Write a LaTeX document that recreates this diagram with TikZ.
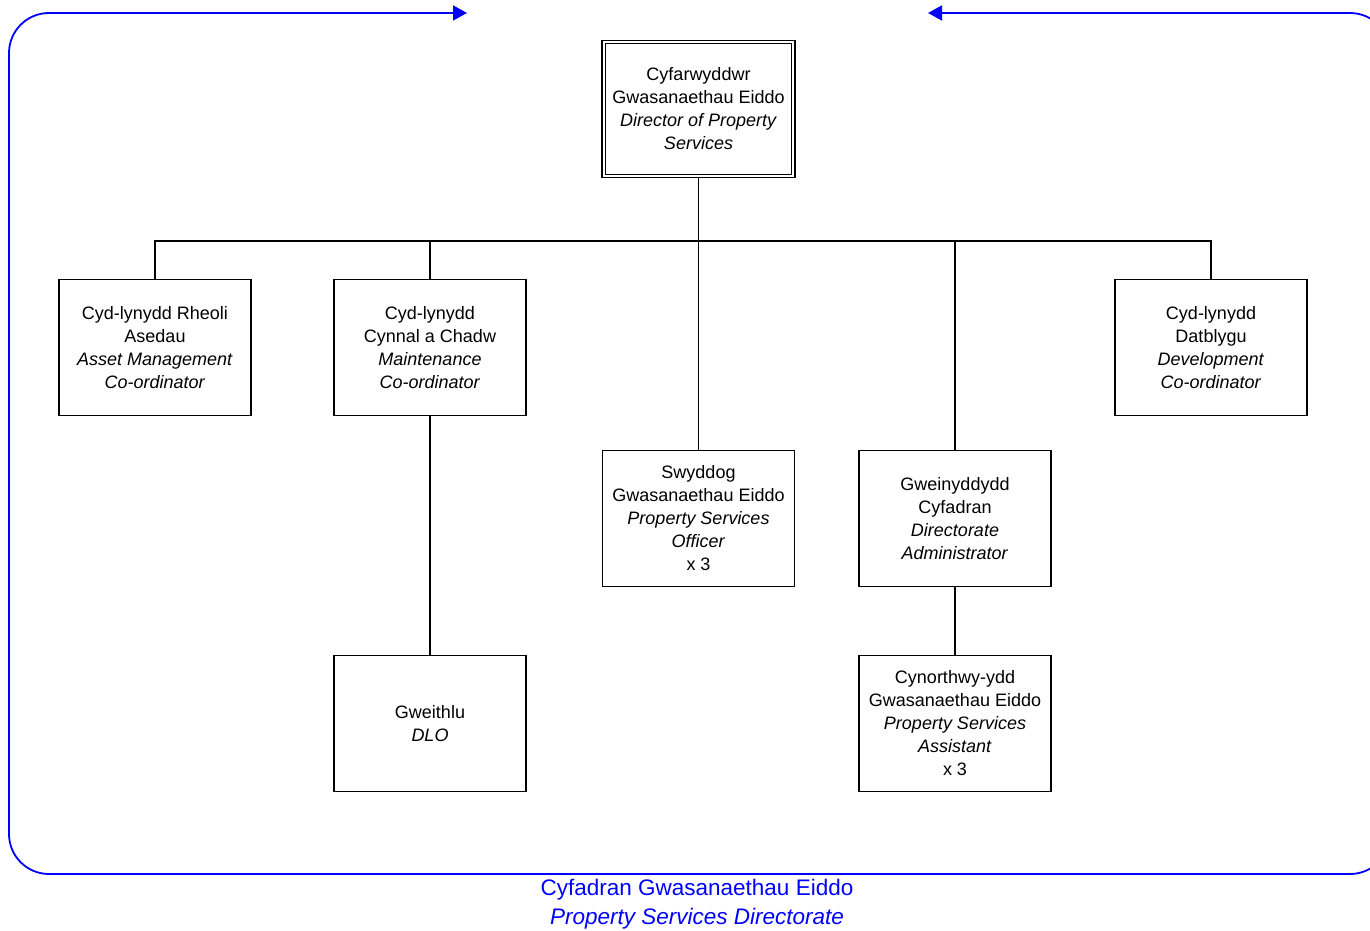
\documentclass[tikz,border=0pt]{standalone}
\usepackage{fontspec}
\setmainfont{Liberation Sans}
\usetikzlibrary{arrows.meta}
\definecolor{frameblue}{RGB}{0,0,255}
\tikzset{
  orgbox/.style={draw, line width=1.3pt, minimum width=192pt, minimum height=136pt, align=center, inner sep=2pt,
    font=\fontsize{18}{23}\selectfont},
  link/.style={line width=1.3pt},
  frame/.style={draw=frameblue, line width=1.8pt, rounded corners=40pt,
    {Triangle[length=14pt,width=15pt]}-{Triangle[length=14pt,width=15pt]}},
}
\begin{document}
\begin{tikzpicture}[x=1pt,y=-1pt]
\useasboundingbox (0,0) rectangle (1370,931);
\begin{scope}
\clip (0,0) rectangle (1370,931);
\coordinate (fl) at (467,13);
\coordinate (fr) at (928,13);
\draw[frame] (fr) -- (1390,13) -- (1390,874) -- (9,874) -- (9,13) -- (fl);
\end{scope}

\node[orgbox, minimum width=193pt, minimum height=137pt] (dir) at (698.5,109) {Cyfarwyddwr\\Gwasanaethau Eiddo\\\textit{Director of Property}\\\textit{Services}};
\draw[line width=1.3pt] ([shift={(4pt,-4pt)}]dir.north west) rectangle ([shift={(-4pt,4pt)}]dir.south east);

\node[orgbox] (asset) at (155,347.5) {Cyd-lynydd Rheoli\\Asedau\\\textit{Asset Management}\\\textit{Co-ordinator}};
\node[orgbox] (maint) at (430,347.5) {Cyd-lynydd\\Cynnal a Chadw\\\textit{Maintenance}\\\textit{Co-ordinator}};
\node[orgbox] (dev) at (1211,347.5) {Cyd-lynydd\\Datblygu\\\textit{Development}\\\textit{Co-ordinator}};
\node[orgbox] (officer) at (698.5,518.5) {Swyddog\\Gwasanaethau Eiddo\\\textit{Property Services}\\\textit{Officer}\\x 3};
\node[orgbox] (admin) at (955,518.5) {Gweinyddydd\\Cyfadran\\\textit{Directorate}\\\textit{Administrator}};
\node[orgbox] (dlo) at (430,723.5) {Gweithlu\\\textit{DLO}};
\node[orgbox] (assist) at (955,723.5) {Cynorthwy-ydd\\Gwasanaethau Eiddo\\\textit{Property Services}\\\textit{Assistant}\\x 3};

\coordinate (bus) at (698.5,241);
\draw[link] (dir.south) -- (officer.north);
\draw[link] (asset.north) -- (asset.north |- bus) -- (dev.north |- bus) -- (dev.north);
\draw[link] (maint.north) -- (maint.north |- bus);
\draw[link] (admin.north) -- (admin.north |- bus);
\draw[link] (maint.south) -- (dlo.north);
\draw[link] (admin.south) -- (assist.north);

\node[text=frameblue, align=center, font=\fontsize{22.5}{29}\selectfont] (cap) at (697,904.5) {Cyfadran Gwasanaethau Eiddo\\\textit{Property Services Directorate}};
\end{tikzpicture}
\end{document}
